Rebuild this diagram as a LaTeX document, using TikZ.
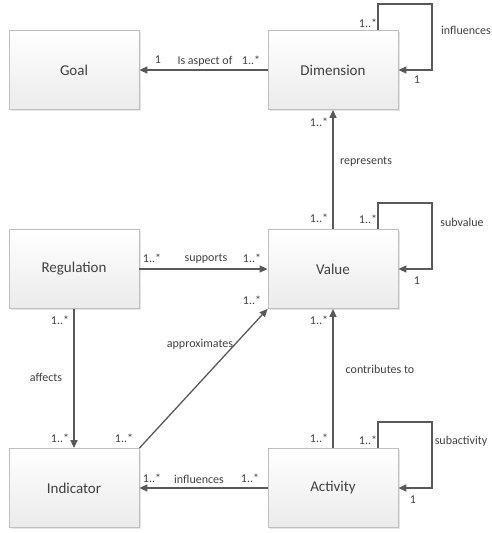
\documentclass[tikz,border=0pt]{standalone}
\usepackage{fontspec}
\setmainfont{Carlito}
\usetikzlibrary{arrows.meta,shadows}
\definecolor{linec}{HTML}{595959}
\definecolor{textc}{HTML}{404040}
\definecolor{boxline}{HTML}{BFBFBF}
\tikzset{
  cls/.style={draw=boxline, line width=0.8pt, top color=white, bottom color=black!8,
    minimum width=130pt, minimum height=79pt, inner sep=0pt, font=\fontsize{15}{17}\selectfont, text=textc,
    drop shadow={shadow xshift=1.5pt, shadow yshift=-1.5pt, opacity=0.25, fill=black!40}},
  assoc/.style={draw=linec, line width=1.3pt, -{Triangle[length=8pt,width=7pt]}},
  lbl/.style={font=\fontsize{12}{14}\selectfont, text=textc, inner sep=1pt},
}
\begin{document}
\begin{tikzpicture}[x=1pt,y=-1pt]
\useasboundingbox (0,0) rectangle (492,533);
\node[cls] (goal) at (74,70) {Goal};
\node[cls] (dim) at (333,70) {Dimension};
\node[cls] (reg) at (74,269) {Regulation};
\node[cls] (val) at (333,269) {Value};
\node[cls] (ind) at (74,488) {Indicator};
\node[cls] (act) at (333,488) {Activity};
% coordinates for loops
\coordinate (dl1) at (378,4);
\coordinate (dl2) at (432,4);
\coordinate (dl3) at (432,70);
\coordinate (vl1) at (378,203);
\coordinate (vl2) at (432,203);
\coordinate (vl3) at (432,269);
\coordinate (al1) at (378,422);
\coordinate (al2) at (432,422);
\coordinate (al3) at (432,488);
% associations
\draw[assoc] (dim.west) -- (goal.east);
\draw[assoc] (val.north) -- (dim.south);
\draw[assoc] (reg.east) -- (val.west);
\draw[assoc] (reg.south) -- (ind.north);
\draw[assoc] (ind.north east) -- (val.south west);
\draw[assoc] (act.north) -- (val.south);
\draw[assoc] (act.west) -- (ind.east);
\draw[assoc] (dim.north east -| dl1) -- (dl1) -- (dl2) -- (dl3) -- (dim.east);
\draw[assoc] (val.north east -| vl1) -- (vl1) -- (vl2) -- (vl3) -- (val.east);
\draw[assoc] (act.north east -| al1) -- (al1) -- (al2) -- (al3) -- (act.east);
% labels
\node[lbl] (l1) at (158,60) {1};
\node[lbl] (l2) at (205,61) {Is aspect of};
\node[lbl] (l3) at (251,60) {1..*};
\node[lbl] (l4) at (368,23) {1..*};
\node[lbl] (l5) at (466,30) {influences};
\node[lbl] (l6) at (417,80) {1};
\node[lbl] (l7) at (319,122) {1..*};
\node[lbl] (l8) at (366,162) {represents};
\node[lbl] (l9) at (319,218) {1..*};
\node[lbl] (l10) at (368,219) {1..*};
\node[lbl] (l11) at (462,222) {subvalue};
\node[lbl] (l12) at (417,281) {1};
\node[lbl] (l13) at (152,258) {1..*};
\node[lbl] (l14) at (206,259) {supports};
\node[lbl] (l15) at (252,258) {1..*};
\node[lbl] (l16) at (252,300) {1..*};
\node[lbl] (l17) at (60,320) {1..*};
\node[lbl] (l18) at (319,320) {1..*};
\node[lbl] (l19) at (200,344) {approximates};
\node[lbl] (l20) at (46,377) {affects};
\node[lbl] (l21) at (380,369) {contributes to};
\node[lbl] (l22) at (60,438) {1..*};
\node[lbl] (l23) at (124,438) {1..*};
\node[lbl] (l24) at (319,438) {1..*};
\node[lbl] (l25) at (368,440) {1..*};
\node[lbl] (l26) at (461,441) {subactivity};
\node[lbl] (l27) at (413,500) {1};
\node[lbl] (l28) at (152,478) {1..*};
\node[lbl] (l29) at (199,479) {influences};
\node[lbl] (l30) at (250,478) {1..*};
\end{tikzpicture}
\end{document}
